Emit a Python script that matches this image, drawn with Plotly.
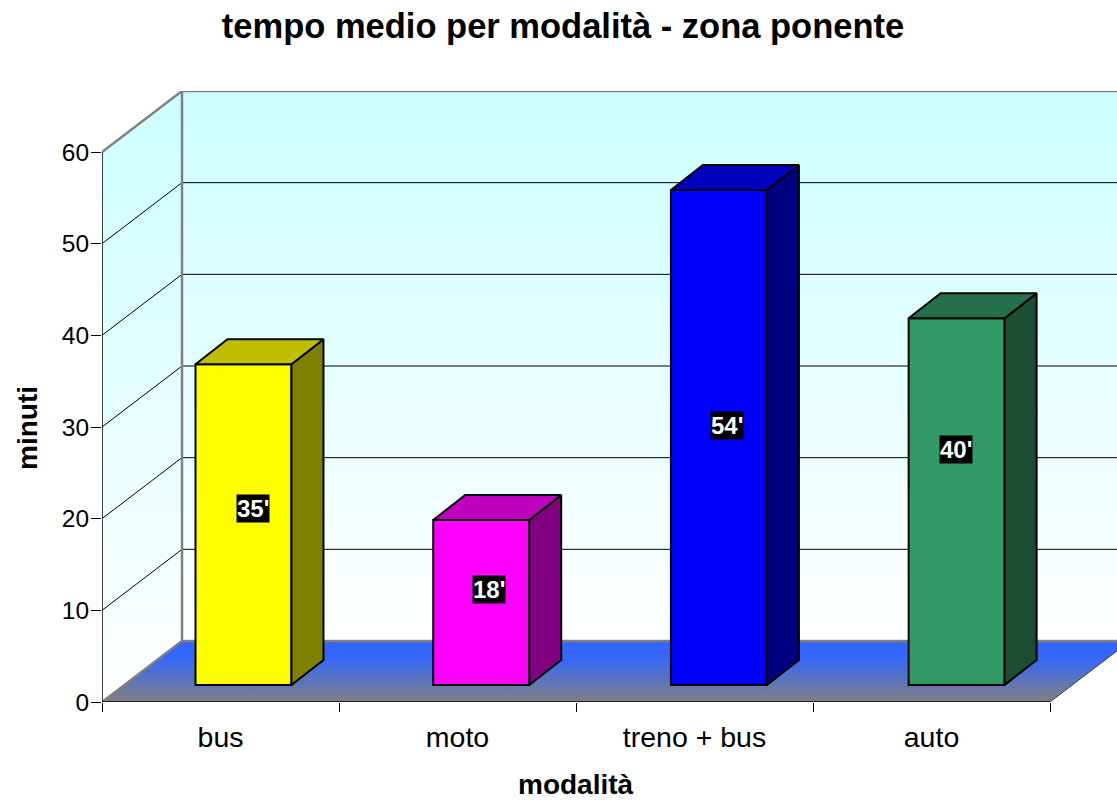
import plotly.graph_objects as go

# --- data ---
categories = ["bus", "moto", "treno + bus", "auto"]
minutes = [35, 18, 54, 40]
bar_labels = ["35'", "18'", "54'", "40'"]
y_ticks = [0, 10, 20, 30, 40, 50, 60]
title_text = "tempo medio per modalità - zona ponente"
x_title = "modalità"
y_title = "minuti"

front_colors = ["#FFFF00", "#FF00FF", "#0000FF", "#339966"]
side_colors = ["#808000", "#800080", "#000080", "#1A4D33"]
top_colors = ["#BFBF00", "#BF00BF", "#0000BF", "#266F4C"]

# --- geometry of the pseudo-3D box, in axis units ---
PX_X, PX_Y = 237.0, 550 / 60
PLOT_W, PLOT_H = 1015, 611
X_MAX = PLOT_W / PX_X
Y_MAX = PLOT_H / PX_Y
WALL_DX, WALL_DY = 80 / PX_X, 61 / PX_Y
BAR_W = 0.405
BAR_X_SHIFT = 0.597
BAR_STEP = 1.003
BAR_BASE = 17 / PX_Y
BAR_DX, BAR_DY = 32 / PX_X, 25 / PX_Y
N = len(categories)
Y_TOP = y_ticks[-1]
FLOOR_RIGHT = N
W, H = 1117, 800

fig = go.Figure()

def poly(xs, ys, axes="", **kw):
    fig.add_trace(go.Scatter(x=xs, y=ys, mode="lines", showlegend=False, hoverinfo="skip",
                             xaxis="x" + axes, yaxis="y" + axes, **kw))

wall_scale = [[0, "#FFFFFF"], [1, "#CCFFFF"]]
# left wall
poly([0, WALL_DX, WALL_DX, 0, 0], [0, WALL_DY, Y_TOP + WALL_DY, Y_TOP, 0],
     fill="toself", line=dict(width=0),
     fillgradient=dict(type="vertical", colorscale=wall_scale, start=0, stop=Y_TOP + WALL_DY))
# back wall
poly([WALL_DX, X_MAX, X_MAX, WALL_DX, WALL_DX],
     [WALL_DY, WALL_DY, Y_TOP + WALL_DY, Y_TOP + WALL_DY, WALL_DY],
     fill="toself", line=dict(width=0),
     fillgradient=dict(type="vertical", colorscale=wall_scale, start=WALL_DY, stop=Y_TOP + WALL_DY))
# floor
poly([0, FLOOR_RIGHT, FLOOR_RIGHT + WALL_DX, WALL_DX, 0], [0, 0, WALL_DY, WALL_DY, 0],
     fill="toself", line=dict(width=0),
     fillgradient=dict(type="vertical", colorscale=[[0, "#808080"], [0.75, "#3366FF"], [1, "#3366FF"]],
                       start=0, stop=WALL_DY))
# gridlines
for v in y_ticks[1:-1]:
    poly([0, WALL_DX, X_MAX], [v, v + WALL_DY, v + WALL_DY], line=dict(color="#000000", width=1))
# wall outlines
poly([0, WALL_DX, WALL_DX], [0, WALL_DY, Y_TOP + WALL_DY], line=dict(color="#808080", width=2.5))
poly([0, WALL_DX, X_MAX], [Y_TOP, Y_TOP + WALL_DY, Y_TOP + WALL_DY], line=dict(color="#808080", width=2.5))
poly([WALL_DX, X_MAX], [WALL_DY, WALL_DY], line=dict(color="#808080", width=2.5))
poly([FLOOR_RIGHT, FLOOR_RIGHT + WALL_DX], [0, WALL_DY], line=dict(color="#404040", width=1))
# axis lines
poly([0, 0], [0, Y_TOP], line=dict(color="#000000", width=1.5))
poly([0, FLOOR_RIGHT], [0, 0], line=dict(color="#000000", width=1.5))

centers = [i * BAR_STEP + BAR_X_SHIFT for i in range(N)]

# front faces (real bars)
fig.add_trace(go.Bar(x=centers, y=minutes, base=[BAR_BASE] * N, width=BAR_W,
                     marker=dict(color=front_colors, line=dict(color="#000000", width=2)),
                     showlegend=False, hoverinfo="skip", xaxis="x2", yaxis="y2"))

# side and top faces, derived from the values
for c, v, sc, tc in zip(centers, minutes, side_colors, top_colors):
    l, r = c - BAR_W / 2, c + BAR_W / 2
    b, t = BAR_BASE, BAR_BASE + v
    poly([r, r + BAR_DX, r + BAR_DX, r, r], [b, b + BAR_DY, t + BAR_DY, t, b], axes="2",
         fill="toself", fillcolor=sc, line=dict(color="#000000", width=2))
    poly([l, l + BAR_DX, r + BAR_DX, r, l], [t, t + BAR_DY, t + BAR_DY, t, t], axes="2",
         fill="toself", fillcolor=tc, line=dict(color="#000000", width=2))

# data labels
label_shift = [(10, 16), (8, 13), (8, 12), (-1, 52)]
annotations = []
for c, v, txt, (sx, sy) in zip(centers, minutes, bar_labels, label_shift):
    annotations.append(dict(x=c, y=BAR_BASE + v / 2, xref="x2", yref="y2", text="<b>%s</b>" % txt,
                            showarrow=False, xshift=sx, yshift=sy, bgcolor="#000000", borderpad=0,
                            font=dict(family="Liberation Sans", size=24, color="#FFFFFF")))

# axis titles sit off-centre in the reference, so they are placed as annotations
annotations.append(dict(x=474 / PLOT_W, y=-82 / PLOT_H, xref="paper", yref="paper",
                        xanchor="center", yanchor="middle",
                        text="<b>%s</b>" % x_title, showarrow=False, font=dict(size=28)))
annotations.append(dict(x=-75 / PLOT_W, y=274 / PLOT_H, xref="paper", yref="paper",
                        xanchor="center", yanchor="middle",
                        text="<b>%s</b>" % y_title, showarrow=False, textangle=-90, font=dict(size=28)))

fig.update_layout(
    width=W, height=H,
    margin=dict(l=102, r=0, t=91, b=98, autoexpand=False),
    paper_bgcolor="#FFFFFF", plot_bgcolor="#FFFFFF",
    font=dict(family="Liberation Sans", color="#000000"),
    title=dict(text="<b>%s</b>" % title_text, x=563 / W, y=1 - 26 / H,
               xanchor="center", yanchor="middle", font=dict(size=34.5)),
    xaxis=dict(range=[0, X_MAX], tickmode="array", tickvals=[i + 0.5 for i in range(N)], ticktext=categories,
               ticks="outside", ticklen=10, tickcolor="rgba(0,0,0,0)", tickfont=dict(size=28.5),
               showgrid=False, zeroline=False, showline=False,
               minor=dict(tickmode="array", tickvals=list(range(N + 1)), ticks="outside", ticklen=9,
                          tickcolor="#000000", tickwidth=1, showgrid=False)),
    yaxis=dict(range=[0, Y_MAX], tickmode="array", tickvals=y_ticks, ticks="outside", ticklen=10,
               tickcolor="#000000", tickwidth=1, tickfont=dict(size=24.5),
               ticklabelstandoff=-3,
               showgrid=False, zeroline=False, showline=False),
    xaxis2=dict(range=[0, X_MAX], overlaying="x", visible=False, anchor="y2"),
    yaxis2=dict(range=[0, Y_MAX], overlaying="y", visible=False, anchor="x2"),
    annotations=annotations,
    showlegend=False,
)

fig.write_html("out.html", default_width="%dpx" % W, default_height="%dpx" % H,
               config={"displayModeBar": False},
               post_script="document.documentElement.style.overflow='hidden';document.body.style.margin='0';")
